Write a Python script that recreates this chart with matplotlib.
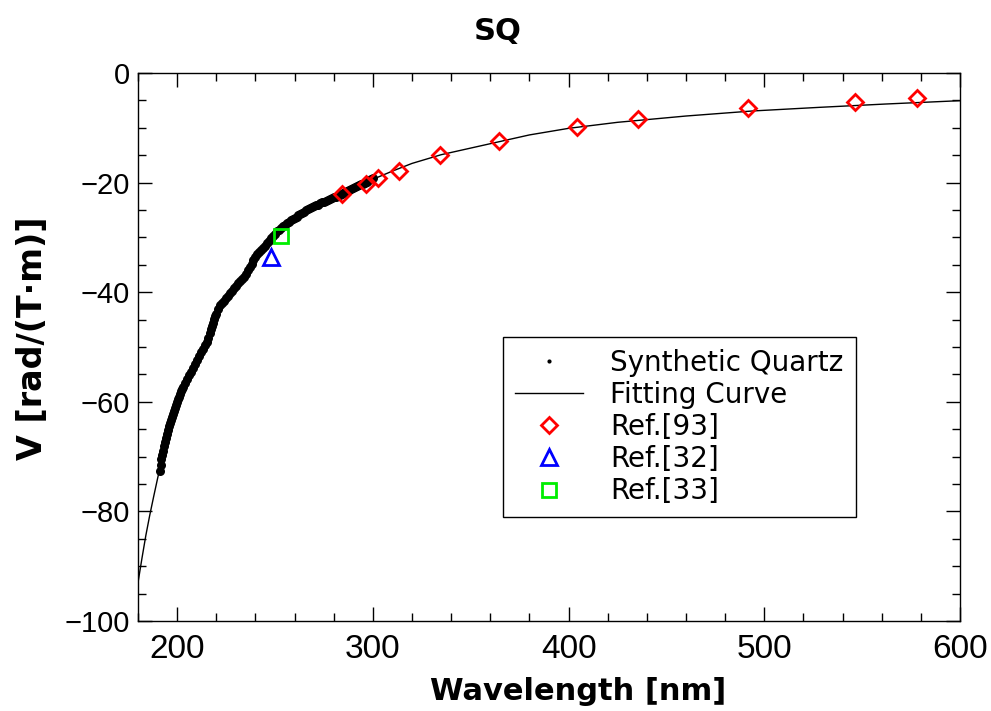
import matplotlib
matplotlib.use("Agg")
import matplotlib.pyplot as plt
from matplotlib.ticker import MultipleLocator, FuncFormatter

# Synthetic quartz: measured Verdet constant [rad/(T·m)] vs wavelength [nm]
sq_wavelength = [
    191, 191.5, 192, 192.5, 193, 193.5, 194, 194.5, 195, 195.5, 196, 196.5,
    197, 197.5, 198, 198.5, 199, 199.5, 200, 200.5, 201, 201.5, 202, 202.5,
    203, 204, 205, 206, 207, 208, 209, 210, 211, 212, 213, 214, 215, 216,
    217, 217.5, 218, 218.5, 219, 219.5, 220, 221, 222, 223, 224, 225, 226,
    227, 228, 229, 230, 231, 232, 233, 234, 235, 236, 237, 238, 239, 240,
    241, 242, 243, 244, 245, 246, 247, 248, 249, 250, 251, 252, 253, 254,
    255, 256, 257, 258, 259, 260, 261, 262, 263, 264, 265, 266, 267, 268,
    269, 270, 271, 272, 273, 274, 275, 276, 277, 278, 279, 280, 281, 282,
    283, 284, 285, 286, 287, 288, 289, 290, 291, 292, 293, 294, 295, 296,
    297, 298, 299, 300,
]
sq_verdet = [
    -72.6, -71.5, -70.5, -69.7, -68.9, -68.1, -67.3, -66.6, -65.9, -65.2,
    -64.5, -63.9, -63.3, -62.75, -62.2, -61.65, -61.1, -60.55, -60.0, -59.55,
    -59.1, -58.6, -58.1, -57.7, -57.3, -56.6, -55.9, -55.2, -54.5, -53.8,
    -53.1, -52.4, -51.6, -50.9, -50.3, -49.7, -49.1, -48.3, -47.4, -46.8,
    -46.2, -45.55, -44.9, -44.4, -43.9, -43.0, -42.4, -42.0, -41.6, -41.1,
    -40.7, -40.2, -39.8, -39.3, -38.9, -38.4, -38.0, -37.6, -37.2, -36.7,
    -36.0, -35.4, -34.8, -34.2, -33.5, -33.1, -32.7, -32.3, -32.0, -31.6,
    -31.1, -30.6, -30.2, -29.8, -29.4, -28.9, -28.6, -28.3, -28.0, -27.7,
    -27.4, -27.1, -26.9, -26.6, -26.4, -26.2, -26.0, -25.7, -25.5, -25.3,
    -25.0, -24.8, -24.7, -24.5, -24.3, -24.1, -24.0, -23.8, -23.6, -23.5,
    -23.3, -23.2, -23.0, -22.9, -22.7, -22.6, -22.4, -22.2, -22.0, -21.9,
    -21.7, -21.5, -21.3, -21.1, -21.0, -20.8, -20.7, -20.5, -20.3, -20.2,
    -20.0, -19.8, -19.6, -19.4, -19.2,
]

# Fitted dispersion curve
fit_wavelength = [
    180, 182, 184, 186, 188, 190, 192, 194, 196, 198, 200, 203, 206, 210,
    215, 220, 225, 230, 235, 240, 245, 250, 255, 260, 265, 270, 280, 290,
    300, 310, 320, 335, 350, 365, 380, 400, 425, 460, 494, 528, 562, 600,
]
fit_verdet = [
    -93.0, -88.6, -84.4, -80.7, -77.3, -74.0, -70.8, -67.6, -64.7, -62.2,
    -60.0, -57.2, -54.9, -52.2, -48.8, -44.6, -41.2, -38.8, -36.5, -33.5,
    -31.6, -29.4, -27.6, -26.4, -25.3, -24.3, -22.7, -21.0, -19.4, -17.9,
    -16.5, -14.9, -13.7, -12.5, -11.3, -10.1, -9.0, -7.85, -6.93, -6.27,
    -5.66, -5.05,
]

# Literature values
ref93_wavelength = [284.1, 296.5, 302.8, 313.4, 334.3, 364.6, 404.5, 435.6, 491.8, 546.4, 578.2]
ref93_verdet = [-22.1, -20.25, -19.2, -17.8, -14.96, -12.4, -9.8, -8.39, -6.44, -5.24, -4.62]
ref32_wavelength = [247.8]
ref32_verdet = [-33.6]
ref33_wavelength = [253.2]
ref33_verdet = [-29.8]

x_ticks = [200, 300, 400, 500, 600]
y_ticks = [0, -20, -40, -60, -80, -100]

W, H = 991, 711
fig = plt.figure(figsize=(W / 100, H / 100), dpi=100)
ax = fig.add_axes([138 / W, 1 - 621 / H, 822 / W, 548 / H])

ax.plot(sq_wavelength, sq_verdet, ls="none", marker="o", ms=6.5, color="black",
        mec="black", mew=0, zorder=3, label="Synthetic Quartz")
ax.plot(fit_wavelength, fit_verdet, color="black", lw=1.0, zorder=2,
        label="Fitting Curve")
ax.plot(ref93_wavelength, ref93_verdet, ls="none", marker="D", ms=7.8,
        mfc="none", mec="#ff0000", mew=2.0, zorder=4, label="Ref.[93]")
ax.plot(ref32_wavelength, ref32_verdet, ls="none", marker="^", ms=11,
        mfc="none", mec="#0000ff", mew=2.0, zorder=4, label="Ref.[32]")
ax.plot(ref33_wavelength, ref33_verdet, ls="none", marker="s", ms=10.5,
        mfc="none", mec="#00ee00", mew=2.0, zorder=4, label="Ref.[33]")

ax.set_xlim(180, 600)
ax.set_ylim(-100, 0)
ax.set_xticks(x_ticks)
ax.set_yticks(y_ticks)
ax.xaxis.set_minor_locator(MultipleLocator(20))
ax.yaxis.set_minor_locator(MultipleLocator(5))
ax.yaxis.set_major_formatter(FuncFormatter(lambda v, p: f"{int(v)}".replace("-", "\u2212")))

for s in ax.spines.values():
    s.set_linewidth(1.0)
ax.tick_params(which="both", direction="in", top=True, right=True, width=1.0)
ax.tick_params(which="major", length=10)
ax.tick_params(which="minor", length=6)
ax.tick_params(axis="x", which="major", pad=9, labelsize=24)
ax.tick_params(axis="y", which="major", pad=6, labelsize=21)
for lab in ax.get_xticklabels() + ax.get_yticklabels():
    lab.set_family(["Liberation Sans", "DejaVu Sans"])

ax.set_xlabel("Wavelength [nm]", family="DejaVu Sans", weight="bold", fontsize=22)
ax.set_ylabel("V [rad/(T·m)]", family="DejaVu Sans", weight="bold", fontsize=24)
ax.xaxis.label.set_va("center")
ax.xaxis.set_label_coords((578 - 138) / 822, (621 - 691) / 548)
ax.yaxis.label.set_va("center")
ax.yaxis.label.set_ha("center")
ax.yaxis.set_label_coords((33 - 138) / 822, (621 - 338) / 548)

fig.text(498 / W, 1 - 31 / H, "SQ", ha="center", va="center",
         family="DejaVu Sans", weight="bold", fontsize=22)

leg = ax.legend(loc="upper left",
                bbox_to_anchor=((503 - 138) / 822, (621 - 337) / 548),
                borderaxespad=0, fontsize=20, frameon=True, fancybox=False,
                edgecolor="black", framealpha=1, handlelength=2.45,
                handletextpad=1.0, labelspacing=0.15, borderpad=0.42)
leg.get_frame().set_linewidth(1.0)
leg.legend_handles[0].set_markersize(3)

fig.savefig("out.png", dpi=100)
